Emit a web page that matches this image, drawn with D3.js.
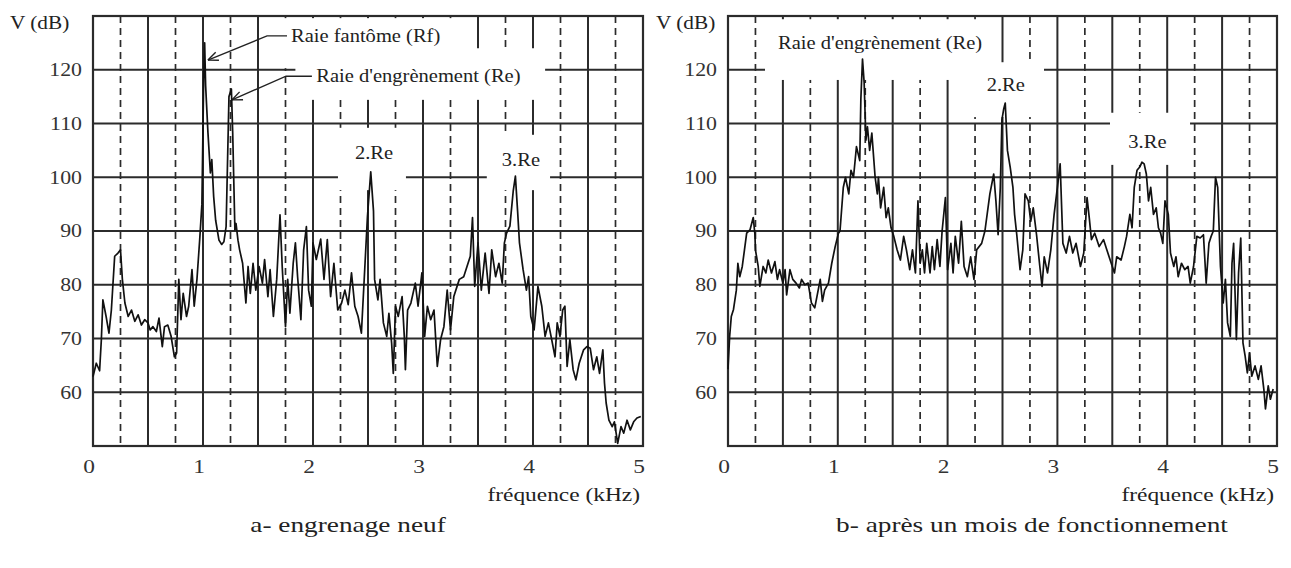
<!DOCTYPE html>
<html>
<head>
<meta charset="utf-8">
<script src="https://cdn.jsdelivr.net/npm/d3@7"></script>
<style>
  html, body { margin: 0; padding: 0; background: #ffffff; }
  svg { display: block; }
</style>
</head>
<body>
<div id="chart"></div>
<script>
const WIDTH = 1291;
const HEIGHT = 568;

const SERIF = "'Liberation Serif', 'Times New Roman', serif";
const GRID_COLOR = '#2b2b2b';
const CURVE_COLOR = '#111111';

// axis values
const yTicks = [60, 70, 80, 90, 100, 110, 120];
const xTicks = [0, 1, 2, 3, 4, 5];
const gridKhz = [0.25, 0.5, 0.75, 1, 1.25, 1.5, 1.75, 2, 2.25, 2.5, 2.75, 3, 3.25, 3.5, 3.75, 4, 4.25, 4.5, 4.75];

// a- engrenage neuf (kHz / dB)
const leftFreq = [0, 0.03, 0.06, 0.076, 0.09, 0.12, 0.145, 0.167, 0.197, 0.227, 0.25, 0.267, 0.29, 0.32, 0.35, 0.38, 0.41, 0.44, 0.47, 0.5,
  0.52, 0.545, 0.576, 0.6, 0.63, 0.65, 0.68, 0.71, 0.74, 0.76, 0.78, 0.8, 0.82, 0.85, 0.87, 0.9, 0.92, 0.945, 0.97, 0.99,
  1.006, 1.015, 1.024, 1.045, 1.067, 1.08, 1.097, 1.115, 1.145, 1.17, 1.19, 1.21, 1.236, 1.258, 1.27, 1.29, 1.3, 1.318, 1.333, 1.36,
  1.39, 1.41, 1.43, 1.455, 1.48, 1.51, 1.54, 1.56, 1.59, 1.61, 1.64, 1.67, 1.7, 1.72, 1.75, 1.77, 1.79, 1.82, 1.84, 1.86,
  1.89, 1.915, 1.94, 1.96, 1.985, 2.0, 2.03, 2.07, 2.1, 2.13, 2.16, 2.19, 2.225, 2.26, 2.29, 2.32, 2.35, 2.38, 2.41, 2.44,
  2.47, 2.495, 2.525, 2.55, 2.56, 2.59, 2.61, 2.64, 2.67, 2.69, 2.715, 2.73, 2.75, 2.775, 2.81, 2.83, 2.84, 2.86, 2.89, 2.93,
  2.955, 2.99, 3.015, 3.04, 3.07, 3.1, 3.13, 3.16, 3.19, 3.22, 3.25, 3.28, 3.33, 3.37, 3.4, 3.43, 3.45, 3.47, 3.5, 3.53,
  3.565, 3.6, 3.625, 3.66, 3.69, 3.72, 3.74, 3.76, 3.79, 3.82, 3.84, 3.86, 3.877, 3.91, 3.94, 3.96, 3.98, 4.01, 4.045, 4.08,
  4.11, 4.14, 4.17, 4.2, 4.22, 4.245, 4.27, 4.29, 4.31, 4.335, 4.365, 4.39, 4.42, 4.46, 4.49, 4.52, 4.55, 4.58, 4.605, 4.635,
  4.65, 4.665, 4.69, 4.72, 4.74, 4.77, 4.8, 4.825, 4.855, 4.885, 4.915, 4.945, 4.98];
const leftDb = [62.9, 65.4, 64, 69.8, 77.2, 74, 71, 75.3, 85.3, 85.9, 86.5, 81, 76.6, 74.1, 75.3, 73.2, 74.4, 72.5, 73.5, 72.9,
  71.6, 72.2, 71.3, 73.8, 68.5, 72.2, 72.5, 70.4, 66.6, 67.3, 81, 73.5, 78.4, 74.1, 76, 82.8, 76, 81, 88.4, 95,
  118, 125, 117, 108.3, 100.8, 103.3, 96.4, 92, 88.3, 87.5, 88, 90.8, 115, 116.4, 108.3, 90.2, 91.4, 88.3, 86.5, 84,
  76.6, 83.4, 78.4, 84, 79, 83.4, 80.3, 84.7, 77.8, 82.8, 74.1, 81, 93, 83.4, 72.2, 81, 74.7, 84, 87.8, 81.5,
  73.5, 86.5, 90.8, 79, 76, 87.8, 84.7, 88.5, 81, 88.4, 77.8, 84, 75.3, 76.6, 79, 76.3, 82.2, 76, 74.1, 71,
  82.8, 92.7, 101, 93.7, 81, 77.2, 81, 72.9, 70.4, 74.7, 69.1, 63.5, 76, 74.1, 77.8, 70.4, 64.2, 75.3, 76.6, 80.3,
  76, 82.2, 70.4, 76, 73.5, 75.3, 64.8, 69.8, 72.2, 79, 71.6, 77.8, 81, 81.5, 83.4, 85.3, 92.5, 79.7, 87.8, 79,
  85.9, 78.4, 86.5, 81.5, 84, 80.3, 87.8, 89.6, 90.9, 97.4, 100.2, 93.7, 87.8, 82.8, 79, 81.5, 74.1, 71.6, 79.7, 76,
  70.4, 72.9, 69.8, 66.6, 72.9, 70.4, 75.3, 76, 64.8, 69.8, 64.2, 62.3, 65.4, 67.9, 68.5, 68.2, 64.2, 66.6, 63.5, 67.9,
  61.7, 58, 54.8, 53.6, 54.5, 50.5, 53.6, 52.4, 54.8, 53, 54.5, 55.2, 55.5];

// b- après un mois de fonctionnement (kHz / dB)
const rightFreq = [0, 0.015, 0.03, 0.05, 0.076, 0.09, 0.107, 0.13, 0.15, 0.17, 0.2, 0.23, 0.245, 0.25, 0.275, 0.29, 0.32, 0.345, 0.366, 0.396,
  0.427, 0.45, 0.47, 0.5, 0.52, 0.534, 0.564, 0.59, 0.62, 0.65, 0.67, 0.7, 0.73, 0.76, 0.79, 0.81, 0.84, 0.86, 0.88, 0.915,
  0.945, 0.976, 1.006, 1.02, 1.05, 1.07, 1.1, 1.12, 1.143, 1.17, 1.2, 1.21, 1.225, 1.24, 1.256, 1.27, 1.29, 1.31, 1.34, 1.36,
  1.37, 1.39, 1.418, 1.44, 1.46, 1.485, 1.51, 1.54, 1.57, 1.6, 1.625, 1.655, 1.68, 1.707, 1.73, 1.75, 1.77, 1.79, 1.81, 1.84,
  1.86, 1.88, 1.905, 1.93, 1.95, 1.98, 2.0, 2.03, 2.05, 2.07, 2.1, 2.125, 2.15, 2.18, 2.21, 2.24, 2.265, 2.31, 2.34, 2.385,
  2.42, 2.44, 2.46, 2.48, 2.495, 2.51, 2.525, 2.545, 2.57, 2.595, 2.61, 2.63, 2.66, 2.685, 2.705, 2.735, 2.757, 2.78, 2.81, 2.84,
  2.86, 2.88, 2.91, 2.94, 2.97, 3.0, 3.025, 3.05, 3.08, 3.11, 3.14, 3.17, 3.21, 3.24, 3.27, 3.29, 3.31, 3.34, 3.38, 3.42,
  3.45, 3.5, 3.52, 3.54, 3.58, 3.61, 3.63, 3.66, 3.68, 3.7, 3.725, 3.75, 3.77, 3.79, 3.81, 3.83, 3.85, 3.875, 3.9, 3.92,
  3.94, 3.96, 3.98, 4.01, 4.03, 4.06, 4.08, 4.1, 4.13, 4.16, 4.19, 4.21, 4.24, 4.27, 4.3, 4.33, 4.355, 4.38, 4.4, 4.42,
  4.44, 4.46, 4.485, 4.51, 4.53, 4.55, 4.575, 4.59, 4.605, 4.63, 4.65, 4.67, 4.69, 4.71, 4.73, 4.75, 4.77, 4.8, 4.83, 4.855,
  4.88, 4.895, 4.92, 4.94, 4.965];
const rightDb = [64.3, 70.4, 74.1, 75.4, 79, 84, 81.5, 83.4, 86.5, 89.6, 90.2, 92.5, 89.4, 86.5, 83.4, 79.7, 83.4, 82.2, 84.6, 82.2,
  84.3, 81, 82.8, 80.3, 82.8, 78.1, 82.8, 81, 80.3, 79.4, 81, 80, 80.3, 76.6, 75.7, 77.8, 81, 76.9, 79, 80.3,
  84, 87.1, 89.6, 90, 98.1, 100, 96.9, 101.3, 100, 105.7, 103.1, 114.5, 122, 117.6, 106.9, 109.4, 105, 108.2, 100, 96.9,
  100, 94.3, 98.1, 92.5, 94.3, 90.6, 89, 86.5, 84.6, 89, 86.5, 82.8, 86.5, 82.2, 95.6, 84, 86.5, 82.2, 87.7, 82.2,
  87.1, 82.8, 88.4, 83.4, 90, 96.2, 82.8, 87.7, 82.2, 89, 84, 91.8, 83.4, 81.5, 85.2, 81, 86.5, 87.7, 90, 96.9,
  100.6, 95.6, 89.3, 98.1, 110.7, 112.6, 113.8, 105, 101.9, 98.1, 93.1, 89.3, 82.8, 86.5, 96.9, 95.6, 91.8, 94.3, 89.3, 83.4,
  79.7, 85.2, 82.2, 86.5, 93.1, 98.1, 102.5, 87.7, 85.9, 89, 85.9, 87.7, 83.4, 85.9, 96.2, 92.5, 88.4, 89.6, 87.1, 88.4,
  86.5, 83.4, 82.2, 85.2, 84.6, 87.1, 89, 93.1, 90.6, 98.1, 101.3, 101.9, 102.8, 102.5, 100.6, 95.6, 98.1, 93.1, 94.3, 90.6,
  89.6, 87.7, 95.6, 93.1, 85.9, 83.4, 85.2, 81.5, 84, 82.8, 83.4, 80.3, 83.4, 89, 88.7, 89.3, 80.3, 87.7, 89, 90,
  100, 98.1, 83.4, 76.6, 81, 72.9, 70.4, 84, 87.7, 69.8, 82.2, 88.7, 69.2, 66.7, 63.6, 67.3, 63, 64.9, 62.4, 64.9,
  60.6, 56.9, 61.2, 58.7, 60.6];

const panels = [
  {
    left: 93, right: 643, top: 16, bottom: 446,
    freq: leftFreq, db: leftDb,
    vLabelX: 10,
    // white boxes behind the annotations: [f0, f1, dBtop, dBbottom]
    masks: [[1.70, 3.43, 129.6, 120.3], [1.84, 4.11, 124, 114.4], [2.227, 2.845, 109.2, 97.6], [3.58, 4.155, 107.9, 97.6]],
    labels: [
      { text: 'Raie fantôme (Rf)', f: 1.80, dB: 126.2, anchor: 'start' },
      { text: "Raie d'engrènement (Re)", f: 2.03, dB: 118.8, anchor: 'start' },
      { text: '2.Re', f: 2.555, dB: 104.5, anchor: 'middle' },
      { text: '3.Re', f: 3.89, dB: 103.2, anchor: 'middle' }
    ],
    arrows: [
      [[1.764, 126.3], [1.582, 126.3], [1.045, 121.8]],
      [[1.99, 118.8], [1.755, 118.8], [1.264, 114.4]]
    ],
    caption: 'a- engrenage neuf', captionX: 348
  },
  {
    left: 728, right: 1277, top: 16, bottom: 446,
    freq: rightFreq, db: rightDb,
    vLabelX: 656,
    masks: [[0.337, 2.386, 129.4, 118.1], [2.19, 2.878, 121.4, 111.2], [3.479, 4.208, 112, 102.3]],
    labels: [
      { text: "Raie d'engrènement (Re)", f: 0.455, dB: 125, anchor: 'start' },
      { text: '2.Re', f: 2.53, dB: 117.2, anchor: 'middle' },
      { text: '3.Re', f: 3.82, dB: 106.6, anchor: 'middle' }
    ],
    arrows: [],
    caption: 'b- après un mois de fonctionnement', captionX: 1032
  }
];

const svg = d3.select('#chart')
  .append('svg')
  .attr('width', WIDTH)
  .attr('height', HEIGHT)
  .style('background', '#ffffff');

panels.forEach(drawPanel);

// serif text stretched sideways, as in the scanned figure
function wideText(g, x, y, str, size, anchor, sx) {
  return g.append('text')
    .attr('transform', `translate(${x},${y}) scale(${sx},1)`)
    .attr('dominant-baseline', 'central')
    .attr('text-anchor', anchor)
    .style('font-family', SERIF)
    .style('font-size', size + 'px')
    .attr('fill', '#222')
    .text(str);
}

function drawPanel(p) {
  const x = d3.scaleLinear().domain([0, 5]).range([p.left, p.right]);
  const y = d3.scaleLinear().domain([50, 130]).range([p.bottom, p.top]);
  const g = svg.append('g');

  // grid
  g.selectAll('line.h')
    .data(yTicks)
    .join('line')
    .attr('class', 'h')
    .attr('x1', p.left).attr('x2', p.right)
    .attr('y1', d => y(d)).attr('y2', d => y(d))
    .attr('stroke', GRID_COLOR)
    .attr('stroke-width', 2);

  g.selectAll('line.v')
    .data(gridKhz)
    .join('line')
    .attr('class', 'v')
    .attr('x1', d => x(d)).attr('x2', d => x(d))
    .attr('y1', p.top).attr('y2', p.bottom)
    .attr('stroke', GRID_COLOR)
    .attr('stroke-width', d => (d * 2) % 1 === 0 ? 2 : 1.7)
    .attr('stroke-dasharray', d => (d * 2) % 1 === 0 ? null : '7,5');

  // white boxes that cut the grid under the annotations
  g.selectAll('rect.mask')
    .data(p.masks)
    .join('rect')
    .attr('class', 'mask')
    .attr('x', d => x(d[0]))
    .attr('y', d => y(d[2]))
    .attr('width', d => x(d[1]) - x(d[0]))
    .attr('height', d => y(d[3]) - y(d[2]))
    .attr('fill', '#ffffff');

  g.append('rect')
    .attr('x', p.left).attr('y', p.top)
    .attr('width', p.right - p.left)
    .attr('height', p.bottom - p.top)
    .attr('fill', 'none')
    .attr('stroke', GRID_COLOR)
    .attr('stroke-width', 2.2);

  // annotations
  p.labels.forEach(d => wideText(g, x(d.f), y(d.dB), d.text, 18, d.anchor, 1.14));

  const line = d3.line().x(d => x(d[0])).y(d => y(d[1]));
  p.arrows.forEach(a => {
    g.append('path')
      .attr('d', line(a))
      .attr('fill', 'none')
      .attr('stroke', '#222')
      .attr('stroke-width', 1.4);
    const tip = a[a.length - 1], prev = a[a.length - 2];
    const ang = Math.atan2(y(prev[1]) - y(tip[1]), x(prev[0]) - x(tip[0]));
    [-0.4, 0.4].forEach(da => {
      g.append('line')
        .attr('x1', x(tip[0])).attr('y1', y(tip[1]))
        .attr('x2', x(tip[0]) + 11 * Math.cos(ang + da))
        .attr('y2', y(tip[1]) + 11 * Math.sin(ang + da))
        .attr('stroke', '#222')
        .attr('stroke-width', 1.4);
    });
  });

  // spectrum
  const pts = p.freq.map((f, i) => [f, p.db[i]]);
  g.append('path')
    .attr('d', line(pts))
    .attr('fill', 'none')
    .attr('stroke', CURVE_COLOR)
    .attr('stroke-width', 1.7)
    .attr('stroke-linejoin', 'round');

  // y labels
  yTicks.forEach(t => wideText(g, p.left - 11, y(t), t, 19, 'end', 1.15).attr('fill', '#333'));
  wideText(g, p.vLabelX, p.top + 6, 'V (dB)', 19, 'start', 1.12);

  // x labels
  xTicks.forEach(t => wideText(g, x(t) - 4, p.bottom + 21, t, 18, 'middle', 1.3).attr('fill', '#333'));

  wideText(g, p.right - 3, p.bottom + 49, 'fréquence (kHz)', 18, 'end', 1.3);

  wideText(g, p.captionX, p.bottom + 79, p.caption, 21, 'middle', 1.3);
}
</script>
</body>
</html>
